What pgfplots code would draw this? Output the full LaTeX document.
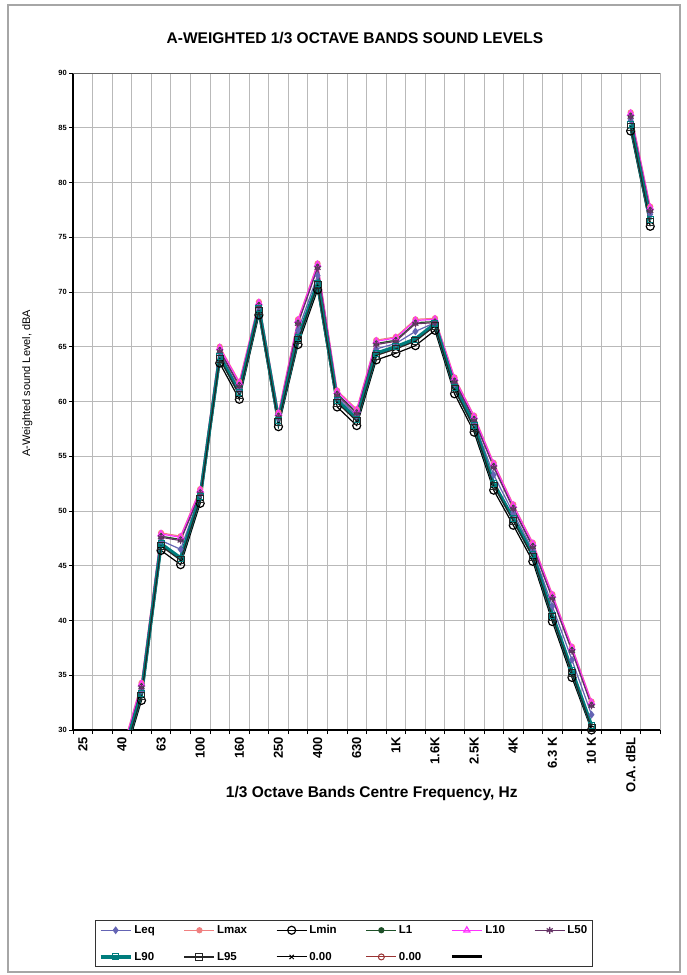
\documentclass[border=0pt]{standalone}
\usepackage{fontspec}
\setmainfont{Liberation Sans}
\usepackage{pgfplots}
\usepackage{pgfplotstable}
\pgfplotsset{compat=1.18}
\definecolor{cLeq}{HTML}{6464B4}
\definecolor{cLmax}{HTML}{F08080}
\definecolor{cL1}{HTML}{1E5028}
\definecolor{cL10}{HTML}{FF33FF}
\definecolor{cL50}{HTML}{663366}
\definecolor{cL90}{HTML}{007D7D}
\definecolor{cZero}{HTML}{993333}

\pgfplotstableread{
k Leq Lmax Lmin L1 L10 L50 L90 L95
0 20.5 21.0 19.7 20.7 20.9 20.6 20.3 20.1
1 22.5 23.0 21.7 22.7 22.9 22.6 22.3 22.1
2 27.5 28.0 26.7 27.7 27.9 27.6 27.3 27.1
3 33.6 34.3 32.7 34.0 34.2 33.9 33.3 33.1
4 47.3 48.0 46.4 47.7 47.9 47.6 47.0 46.8
5 46.5 47.7 45.1 47.4 47.6 47.3 45.7 45.5
6 51.5 52.0 50.7 51.7 51.9 51.6 51.3 51.1
7 64.4 65.0 63.5 64.7 64.9 64.6 64.1 63.9
8 61.1 61.8 60.2 61.5 61.7 61.4 60.8 60.6
9 68.6 69.1 67.9 68.8 69.0 68.7 68.5 68.3
10 58.5 59.0 57.7 58.7 58.9 58.6 58.3 58.1
11 66.5 67.5 65.2 67.2 67.4 67.1 65.8 65.6
12 71.5 72.6 70.2 72.3 72.5 72.2 70.8 70.6
13 60.4 61.0 59.5 60.7 60.9 60.6 60.1 59.9
14 58.7 59.3 57.8 59.0 59.2 58.9 58.4 58.2
15 64.8 65.6 63.8 65.3 65.5 65.2 64.4 64.2
16 65.3 65.9 64.4 65.6 65.8 65.5 65.0 64.8
17 66.4 67.5 65.1 67.2 67.4 67.1 65.7 65.5
18 67.2 67.6 66.5 67.3 67.5 67.2 67.1 66.9
19 61.6 62.2 60.7 61.9 62.1 61.8 61.3 61.1
20 58.1 58.7 57.2 58.4 58.6 58.3 57.8 57.6
21 53.3 54.4 51.9 54.1 54.3 54.0 52.5 52.3
22 49.8 50.6 48.7 50.3 50.5 50.2 49.3 49.1
23 46.4 47.1 45.4 46.8 47.0 46.7 46.0 45.8
24 41.3 42.4 39.9 42.1 42.3 42.0 40.5 40.3
25 36.4 37.6 34.8 37.3 37.5 37.2 35.4 35.2
26 31.4 32.6 30.0 32.3 32.5 32.2 30.4 30.2
27 nan nan nan nan nan nan nan nan
28 85.7 86.4 84.7 86.1 86.3 86.0 85.3 85.1
29 77.1 77.8 76.0 77.5 77.7 77.4 76.6 76.4
}\data

\begin{document}
\begin{tikzpicture}
\path[use as bounding box] (0,0) rectangle (686pt,975pt);
\draw[gray!70, line width=1.2pt] (8pt,3pt) rectangle (680pt,970pt);
\node[font=\fontsize{15.5}{17}\selectfont\bfseries] at (355pt,937pt) {A-WEIGHTED 1/3 OCTAVE BANDS SOUND LEVELS};
\begin{axis}[
  at={(73pt,245pt)}, anchor=south west,
  scale only axis, width=587pt, height=657pt,
  xmin=-0.5, xmax=29.5, ymin=30, ymax=90,
  axis lines*=left,
  xtick={0,2,...,28},
  xticklabels={25,40,63,100,160,250,400,630,1K,1.6K,2.5K,4K,6.3 K,10 K,O.A. dBL},
  minor xtick={-0.5,0.5,...,29.5},
  ytick={30,35,...,90},
  minor ytick={30,35,...,90},
  xminorgrids, ymajorgrids,
  grid style={gray!55, line width=0.7pt},
  minor grid style={gray!55, line width=0.7pt},
  tick align=outside,
  major tick length=0pt,
  minor tick length=4pt,
  minor tick style={black, line width=0.8pt},
  axis line style={black, line width=1.3pt, -},
  /pgf/number format/assume math mode=true,
  xticklabel style={rotate=90, anchor=east, inner xsep=7pt, font=\fontsize{13}{14}\selectfont\bfseries},
  yticklabel style={font=\fontsize{7.5}{9}\selectfont\bfseries, inner xsep=6pt},
  xlabel={1/3 Octave Bands Centre Frequency, Hz},
  xlabel style={at={(axis description cs:0.509,-0.096)}, anchor=center, font=\fontsize{15.5}{17}\selectfont\bfseries},
  ylabel={A-Weighted sound Level, dBA},
  ylabel style={at={(axis description cs:-0.078,0.528)}, anchor=center, font=\fontsize{11}{12}\selectfont},
  unbounded coords=jump,
  legend columns=6,
  legend cell align=left,
  legend style={at={(0.4617,-0.325)}, anchor=center, draw=black!80, line width=1.2pt,
    font=\fontsize{11.5}{13}\selectfont\bfseries,
    /tikz/every even column/.append style={column sep=27pt},
    row sep=13pt, inner sep=3pt},
  legend image code/.code={\draw[#1, mark repeat=2, mark phase=2] plot coordinates {(0pt,0pt) (15pt,0pt) (30pt,0pt)};},
]
\draw[black!60, line width=0.8pt] (rel axis cs:0,1) -- (rel axis cs:1,1) -- (rel axis cs:1,0);
\addplot[color=cLeq, line width=1.2pt, mark=diamond*, mark size=3pt, mark options={solid, fill=cLeq}] table[x=k,y=Leq]{\data};
\addlegendentry{Leq}
\addplot[color=cLmax, line width=1.2pt, mark=*, mark size=2.5pt, mark options={solid, fill=cLmax}] table[x=k,y=Lmax]{\data};
\addlegendentry{Lmax}
\addplot[color=black, line width=1.2pt, mark=o, mark size=4pt, mark options={solid, line width=1.2pt}] table[x=k,y=Lmin]{\data};
\addlegendentry{Lmin}
\addplot[color=cL1, line width=1.2pt, mark=*, mark size=2.5pt, mark options={solid, fill=cL1}] table[x=k,y=L1]{\data};
\addlegendentry{L1}
\addplot[color=cL10, line width=1.2pt, mark=triangle, mark size=3.5pt, mark options={solid}] table[x=k,y=L10]{\data};
\addlegendentry{L10}
\addplot[color=cL50, line width=1.2pt, mark=asterisk, mark size=3.5pt, mark options={solid}] table[x=k,y=L50]{\data};
\addlegendentry{L50}
\addplot[color=cL90, line width=3.5pt, mark=square, mark size=3pt, mark options={solid, line width=1pt}] table[x=k,y=L90]{\data};
\addlegendentry{L90}
\addplot[color=black!85, line width=1.2pt, mark=square, mark size=3.5pt, mark options={solid, line width=1pt}] table[x=k,y=L95]{\data};
\addlegendentry{L95}
\addlegendimage{black, line width=1pt, mark=x, mark size=3pt}
\addlegendentry{0.00}
\addlegendimage{cZero, line width=1pt, mark=o, mark size=3pt}
\addlegendentry{0.00}
\addlegendimage{black, line width=3pt}
\addlegendentry{}
\end{axis}
\end{tikzpicture}
\end{document}
